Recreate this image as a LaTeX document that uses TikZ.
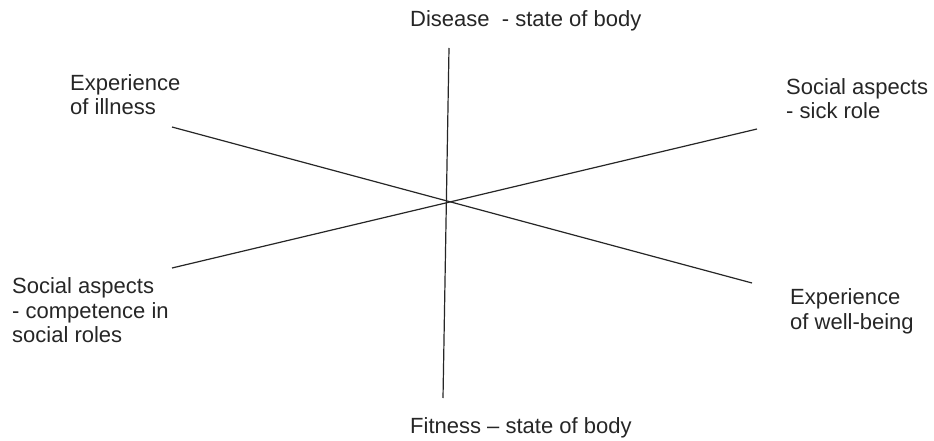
\documentclass[tikz,border=0pt]{standalone}
\usepackage{fontspec}
\setmainfont{Liberation Sans}
\begin{document}
\begin{tikzpicture}[x=1pt,y=-1pt,
  lbl/.style={inner sep=0pt, anchor=base west, align=left, text=black!85,
    font=\fontsize{22pt}{24.5pt}\selectfont},
  axis/.style={draw=black!85, line width=1.2pt}]
\useasboundingbox[fill=white] (0,0) rectangle (934,441);
% endpoints
\coordinate (top) at (449,48);
\coordinate (bot) at (443,398);
\coordinate (ill) at (172,127);
\coordinate (well) at (752,283);
\coordinate (comp) at (172,268);
\coordinate (sick) at (757,129);
% lines
\draw[axis] (top) -- (bot);
\draw[axis] (ill) -- (well);
\draw[axis] (comp) -- (sick);
% labels (base = baseline of the last line)
\node[lbl] (disease) at (410,27) {Disease~~- state of body};
\node[lbl] (illness) at (70,115) {Experience\\of illness};
\node[lbl] (sickrole) at (786,119) {Social aspects\\- sick role};
\node[lbl] (compet) at (12,342.7) {Social aspects\\- competence in\\social roles};
\node[lbl] (wellbeing) at (790,329) {Experience\\of well-being};
\node[lbl] (fitness) at (410,433) {Fitness -- state of body};
\end{tikzpicture}
\end{document}
